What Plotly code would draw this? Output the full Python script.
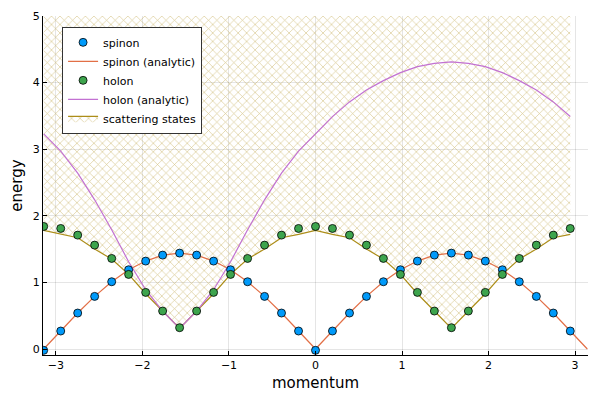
import plotly.graph_objects as go

# momentum grid (k = -pi ... pi in steps of pi/16)
momentum = [-3.142, -2.945, -2.749, -2.553, -2.356, -2.160, -1.963, -1.767,
            -1.571, -1.374, -1.178, -0.982, -0.785, -0.589, -0.393, -0.196,
            0.000, 0.196, 0.393, 0.589, 0.785, 0.982, 1.178, 1.374,
            1.571, 1.767, 1.963, 2.160, 2.356, 2.553, 2.749, 2.945, 3.142]

# numerical spinon / holon energies (32 points, last k = 2.945)
spinon = [-0.02, 0.27, 0.54, 0.79, 1.01, 1.19, 1.32, 1.41,
          1.44, 1.41, 1.32, 1.19, 1.01, 0.79, 0.54, 0.27,
          -0.02, 0.27, 0.54, 0.79, 1.01, 1.19, 1.32, 1.41,
          1.44, 1.41, 1.32, 1.19, 1.01, 0.79, 0.54, 0.27]
holon = [1.84, 1.81, 1.71, 1.56, 1.36, 1.12, 0.85, 0.57,
         0.32, 0.57, 0.85, 1.12, 1.36, 1.56, 1.71, 1.81,
         1.84, 1.81, 1.71, 1.56, 1.36, 1.12, 0.85, 0.57,
         0.32, 0.57, 0.85, 1.12, 1.36, 1.56, 1.71, 1.81]

# analytic curves
spinon_analytic = [0.00, 0.27, 0.54, 0.79, 1.01, 1.19, 1.32, 1.41,
                   1.44, 1.41, 1.32, 1.19, 1.01, 0.79, 0.54, 0.27,
                   0.00, 0.27, 0.54, 0.79, 1.01, 1.19, 1.32, 1.41,
                   1.44, 1.41, 1.32, 1.19, 1.01, 0.79, 0.54, 0.27, 0.00]
holon_analytic = [3.23, 2.97, 2.64, 2.24, 1.79, 1.31, 0.89, 0.57,
                  0.31, 0.57, 0.89, 1.31, 1.79, 2.24, 2.64, 2.97,
                  3.23, 3.49, 3.71, 3.89, 4.03, 4.15, 4.24, 4.29,
                  4.31, 4.29, 4.24, 4.15, 4.03, 3.89, 3.71, 3.49]

# scattering continuum: lower edge, filled up to the top of the plot
scattering_lower = [1.78, 1.72, 1.67, 1.50, 1.35, 1.12, 0.83, 0.57,
                    0.31, 0.57, 0.83, 1.12, 1.35, 1.50, 1.67, 1.72,
                    1.78, 1.72, 1.67, 1.50, 1.35, 1.12, 0.83, 0.57,
                    0.31, 0.57, 0.83, 1.12, 1.35, 1.50, 1.67, 1.72]
scattering_upper = [5.0] * len(scattering_lower)

x_ticks = [-3, -2, -1, 0, 1, 2, 3]
y_ticks = [0, 1, 2, 3, 4, 5]

BLUE = "#009AFA"
ORANGE = "#E26F46"
GREEN = "#3DA44D"
PURPLE = "#C271D2"
OLIVE = "#AC8D18"

n = len(spinon)
fig = go.Figure()

# continuum first so that the markers sit on top of the hatching
fig.add_trace(go.Scatter(
    x=momentum[:n], y=scattering_upper, mode="lines",
    line=dict(width=0, color=OLIVE), showlegend=False, hoverinfo="skip"
))
fig.add_trace(go.Scatter(
    x=momentum[:n], y=scattering_lower, mode="lines",
    name="scattering states", legendrank=5,
    line=dict(color=OLIVE, width=1.2),
    fill="tonexty", fillcolor="rgba(0,0,0,0)",
    fillpattern=dict(shape="x", fgcolor=OLIVE, fgopacity=0.5,
                     bgcolor="rgba(0,0,0,0)", size=6, solidity=0.2)
))

fig.add_trace(go.Scatter(
    x=momentum, y=spinon_analytic, mode="lines", name="spinon (analytic)",
    legendrank=2, line=dict(color=ORANGE, width=1.2)
))
fig.add_trace(go.Scatter(
    x=momentum[:n], y=holon_analytic, mode="lines", name="holon (analytic)",
    legendrank=4, line=dict(color=PURPLE, width=1.2)
))
fig.add_trace(go.Scatter(
    x=momentum[:n], y=spinon, mode="markers", name="spinon", legendrank=1,
    marker=dict(color=BLUE, size=8, line=dict(color="black", width=0.8))
))
fig.add_trace(go.Scatter(
    x=momentum[:n], y=holon, mode="markers", name="holon", legendrank=3,
    marker=dict(color=GREEN, size=8, line=dict(color="black", width=0.8))
))

axis_style = dict(
    showgrid=True, gridcolor="rgba(0,0,0,0.1)", gridwidth=0.5,
    zeroline=False, showline=True, linecolor="black", linewidth=1,
    ticks="inside", ticklen=4, tickcolor="black", automargin=False,
    ticklabeloverflow="allow",
    tickfont=dict(size=11, color="black"),
    title_font=dict(size=15, color="black"),
)

fig.update_xaxes(range=[-3.15, 3.15], tickvals=x_ticks, title_text="momentum",
                 title_standoff=6, **axis_style)
fig.update_yaxes(range=[-0.09, 5], tickvals=y_ticks, title_text="energy",
                 title_standoff=10, **axis_style)

# the page body adds about 8 px on the left and top, margins allow for it
fig.update_layout(
    width=600, height=400,
    font=dict(family="DejaVu Sans", color="black"),
    plot_bgcolor="white", paper_bgcolor="white",
    margin=dict(l=35, r=20, t=8, b=53),
    legend=dict(
        x=0.035, y=0.968, xanchor="left", yanchor="top",
        bgcolor="white", bordercolor="#333333", borderwidth=1,
        font=dict(size=11), traceorder="normal", tracegroupgap=0,
        itemwidth=30,
    ),
    showlegend=True,
)

fig.write_html("out.html")
